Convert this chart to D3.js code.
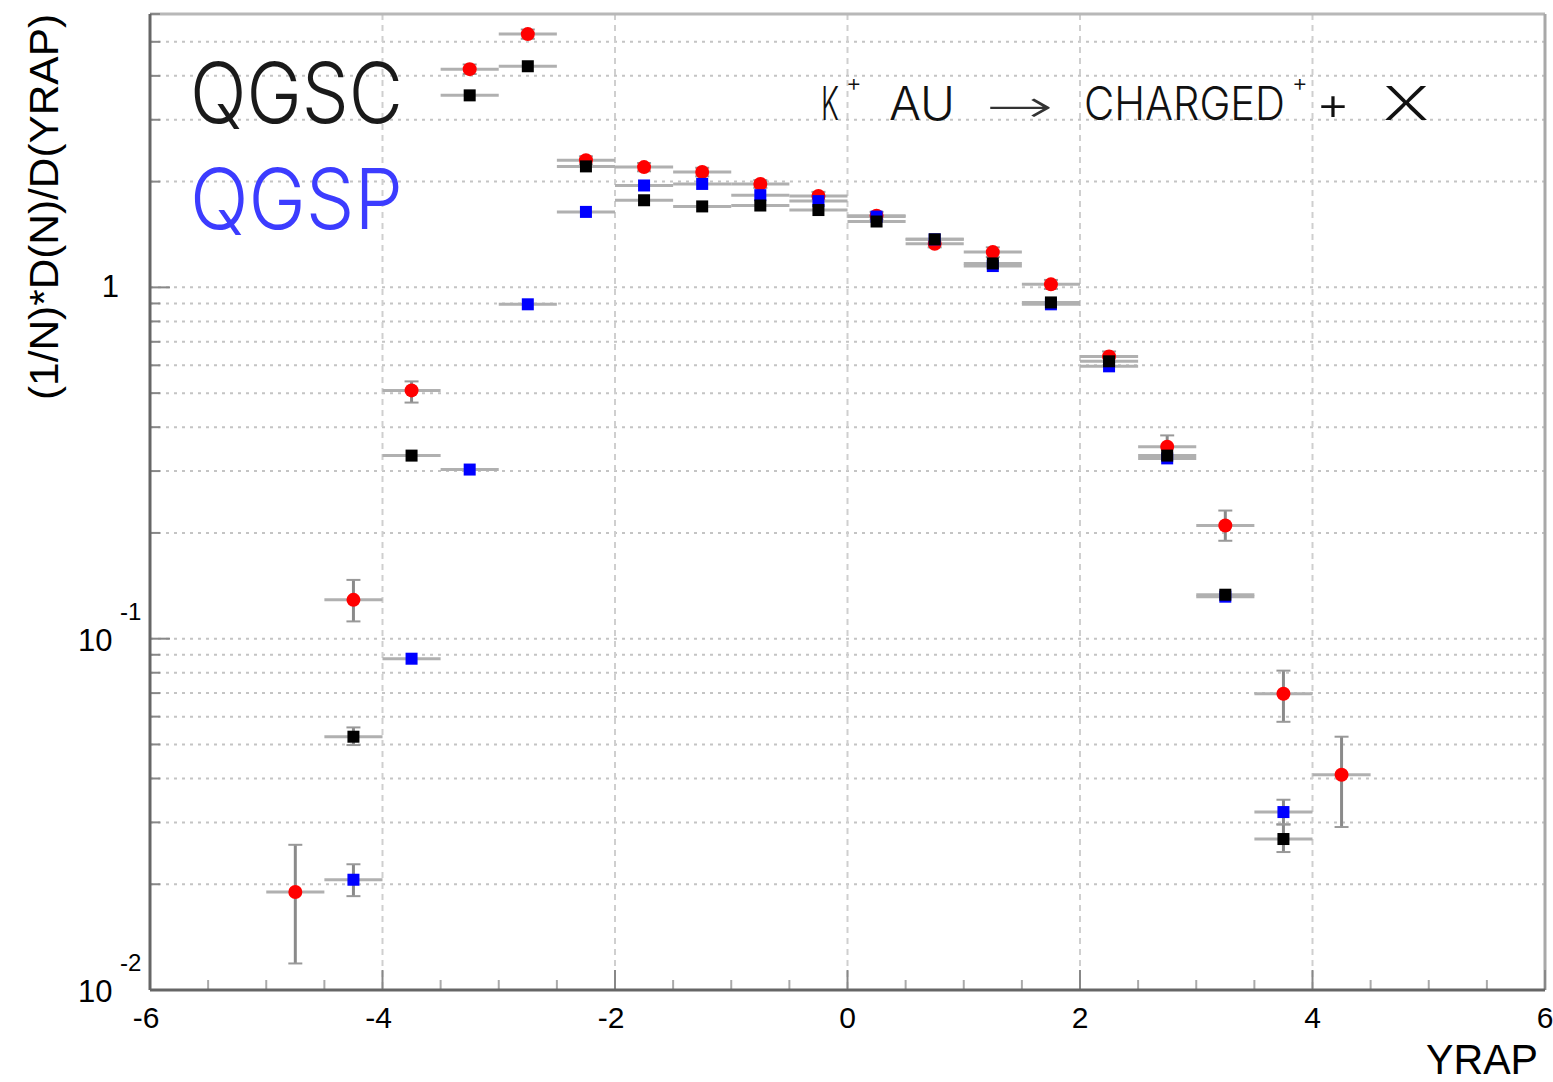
<!DOCTYPE html>
<html>
<head>
<meta charset="utf-8">
<script src="https://cdn.jsdelivr.net/npm/d3@7"></script>
<style>
  html, body { margin: 0; padding: 0; background: #fff; }
  svg { display: block; }
</style>
</head>
<body>
<div id="chart"></div>
<script>
// bin centres in rapidity (bin width 0.5)
const binCenters = [-4.75, -4.25, -3.75, -3.25, -2.75, -2.25, -1.75, -1.25, -0.75, -0.25,
                    0.25, 0.75, 1.25, 1.75, 2.25, 2.75, 3.25, 3.75, 4.25];
const binHalfWidth = 0.25;

// measured data (red)
const dataVal = [0.0190, 0.129, 0.509, 4.18, 5.26, 2.30, 2.20, 2.13, 1.97, 1.82,
                 1.60, 1.33, 1.26, 1.02, 0.636, 0.352, 0.210, 0.0697, 0.0410];
const dataLo  = [0.0119, 0.112, 0.470, 4.05, 5.10, 2.24, 2.14, 2.07, 1.92, 1.77,
                 1.56, 1.30, 1.22, 0.99, 0.615, 0.328, 0.190, 0.0580, 0.0291];
const dataHi  = [0.0259, 0.147, 0.540, 4.31, 5.42, 2.36, 2.26, 2.19, 2.02, 1.87,
                 1.64, 1.36, 1.30, 1.05, 0.657, 0.379, 0.2316, 0.0811, 0.0526];

// QGSC (black)
const qgscVal = [null, 0.0526, 0.332, 3.52, 4.26, 2.21, 1.77, 1.70, 1.71, 1.66,
                 1.54, 1.37, 1.17, 0.906, 0.616, 0.332, 0.1334, 0.0269, null];
const qgscLo  = [null, 0.0498, null, null, null, null, null, null, null, null,
                 null, null, null, null, null, null, null, 0.0247, null];
const qgscHi  = [null, 0.0559, null, null, null, null, null, null, null, null,
                 null, null, null, null, null, null, null, 0.0296, null];

// QGSP (blue)
const qgspVal = [null, 0.0206, 0.0877, 0.303, 0.895, 1.64, 1.95, 1.97, 1.83, 1.76,
                 1.59, 1.37, 1.15, 0.895, 0.596, 0.326, 0.1317, 0.0321, null];
const qgspLo  = [null, 0.0185, null, null, null, null, null, null, null, null,
                 null, null, null, null, null, null, null, 0.0296, null];
const qgspHi  = [null, 0.0228, null, null, null, null, null, null, null, null,
                 null, null, null, null, null, null, null, 0.0348, null];

const xMajorTicks = [-6, -4, -2, 0, 2, 4, 6];
const yLabelTicks = [{v: 0.01, base: "10", exp: "-2"}, {v: 0.1, base: "10", exp: "-1"}, {v: 1, base: "1", exp: ""}];

const W = 1553, H = 1082;
const m = {left: 150, right: 1545, top: 14, bottom: 990};

const svg = d3.select("#chart").append("svg")
  .attr("width", W).attr("height", H);

const x = d3.scaleLinear().domain([-6, 6]).range([m.left, m.right]);
const y = d3.scaleLog().domain([0.01, 6]).range([m.bottom, m.top]);

const font = "'Liberation Sans', Arial, sans-serif";
const thinFont = "Inter, 'Liberation Sans', sans-serif";

// horizontal dotted grid at every log tick
const yGrid = [];
[0.01, 0.1, 1].forEach(d => { for (let k = 1; k <= 9; k++) { const v = d * k; if (v > 0.0101 && v < 6.01) yGrid.push(v); } });

svg.append("g")
  .selectAll("line")
  .data(yGrid)
  .join("line")
    .attr("x1", m.left).attr("x2", m.right)
    .attr("y1", d => y(d)).attr("y2", d => y(d))
    .attr("stroke", "#c4c4c4")
    .attr("stroke-width", 2)
    .attr("stroke-dasharray", "3,5");

// vertical dashed grid at major x ticks
svg.append("g")
  .selectAll("line")
  .data([-4, -2, 0, 2, 4])
  .join("line")
    .attr("x1", d => x(d)).attr("x2", d => x(d))
    .attr("y1", m.top).attr("y2", m.bottom)
    .attr("stroke", "#cfcfcf")
    .attr("stroke-width", 2)
    .attr("stroke-dasharray", "6,5");

// frame
svg.append("line").attr("x1", m.left).attr("x2", m.right).attr("y1", m.top).attr("y2", m.top)
  .attr("stroke", "#b8b8b8").attr("stroke-width", 3);
svg.append("line").attr("x1", m.right).attr("x2", m.right).attr("y1", m.top).attr("y2", m.bottom)
  .attr("stroke", "#a8a8a8").attr("stroke-width", 3);

// x ticks (inward)
const isMajor = d => Math.abs(d % 2) < 1e-9;
svg.append("g")
  .selectAll("line")
  .data(d3.range(-6, 6.01, 0.5))
  .join("line")
    .attr("x1", d => x(d)).attr("x2", d => x(d))
    .attr("y1", m.bottom)
    .attr("y2", d => isMajor(d) ? m.bottom - 20 : m.bottom - 10)
    .attr("stroke", d => isMajor(d) ? "#888" : "#aaa")
    .attr("stroke-width", 2);

// y ticks (inward)
svg.append("g")
  .selectAll("line")
  .data(yGrid)
  .join("line")
    .attr("x1", m.left)
    .attr("x2", d => (Math.abs(d - 0.1) < 1e-9 || Math.abs(d - 1) < 1e-9) ? m.left + 20 : m.left + 10)
    .attr("y1", d => y(d)).attr("y2", d => y(d))
    .attr("stroke", "#888")
    .attr("stroke-width", 2);

// axis lines
svg.append("line").attr("x1", m.left).attr("x2", m.right).attr("y1", m.bottom).attr("y2", m.bottom)
  .attr("stroke", "#666").attr("stroke-width", 3);
svg.append("line").attr("x1", m.left).attr("x2", m.left).attr("y1", m.top).attr("y2", m.bottom)
  .attr("stroke", "#666").attr("stroke-width", 3);

// x tick labels
svg.append("g")
  .selectAll("text")
  .data(xMajorTicks)
  .join("text")
    .attr("x", d => x(d) - (d < 0 ? 4 : 0))
    .attr("y", 1028)
    .attr("text-anchor", "middle")
    .attr("font-family", font)
    .attr("font-size", 30)
    .attr("fill", "#000")
    .text(d => d);

// y tick labels
yLabelTicks.forEach(t => {
  const yy = y(t.v);
  if (t.exp) {
    const tx = svg.append("text")
      .attr("font-family", font).attr("font-size", 31);
    tx.append("tspan").attr("x", 78).attr("y", yy + 12).text(t.base);
    tx.append("tspan").attr("x", 120).attr("y", yy - 19).attr("font-size", 24).text(t.exp);
  } else {
    svg.append("text")
      .attr("x", 119).attr("y", yy + 10)
      .attr("text-anchor", "end")
      .attr("font-family", font).attr("font-size", 31)
      .text(t.base);
  }
});

// axis titles
svg.append("text")
  .attr("x", 1538).attr("y", 1074)
  .attr("text-anchor", "end")
  .attr("font-family", font).attr("font-size", 42)
  .attr("textLength", 112).attr("lengthAdjust", "spacingAndGlyphs")
  .text("YRAP");

svg.append("text")
  .attr("transform", "translate(58,14) rotate(-90)")
  .attr("text-anchor", "end")
  .attr("font-family", font).attr("font-size", 40)
  .attr("textLength", 386).attr("lengthAdjust", "spacingAndGlyphs")
  .text("(1/N)*D(N)/D(YRAP)");

// legend texts
svg.append("text")
  .attr("x", 190).attr("y", 123)
  .attr("font-family", thinFont).attr("font-size", 84).attr("font-weight", 300)
  .attr("fill", "#1a1a1a")
  .attr("textLength", 213).attr("lengthAdjust", "spacingAndGlyphs")
  .text("QGSC");
svg.append("text")
  .attr("x", 190).attr("y", 229)
  .attr("font-family", thinFont).attr("font-size", 84).attr("font-weight", 300)
  .attr("fill", "#3c3cff")
  .attr("textLength", 213).attr("lengthAdjust", "spacingAndGlyphs")
  .text("QGSP");

// reaction label, one text with positioned pieces
const rx = svg.append("text")
  .attr("font-family", thinFont).attr("font-weight", 300)
  .attr("font-size", 46).attr("fill", "#111");
rx.append("tspan").attr("x", 821).attr("y", 120)
  .attr("textLength", 18).attr("lengthAdjust", "spacingAndGlyphs").text("K");
rx.append("tspan").attr("x", 846).attr("y", 91).attr("font-size", 24).text("+");
rx.append("tspan").attr("x", 889).attr("y", 120)
  .attr("textLength", 66).attr("lengthAdjust", "spacingAndGlyphs").text("AU");
rx.append("tspan").attr("x", 986).attr("y", 122)
  .attr("font-family", "'DejaVu Sans', sans-serif").attr("fill", "#333")
  .attr("textLength", 68).attr("lengthAdjust", "spacingAndGlyphs").text("\u2192");
rx.append("tspan").attr("x", 1084).attr("y", 120)
  .attr("textLength", 201).attr("lengthAdjust", "spacingAndGlyphs").text("CHARGED");
rx.append("tspan").attr("x", 1292).attr("y", 91).attr("font-size", 24).text("+");
rx.append("tspan").attr("x", 1316).attr("y", 120)
  .attr("textLength", 34).attr("lengthAdjust", "spacingAndGlyphs").text("+");
rx.append("tspan").attr("x", 1383).attr("y", 120)
  .attr("textLength", 46).attr("lengthAdjust", "spacingAndGlyphs").text("X");

// build series
function series(vals, lo, hi) {
  return binCenters.map((c, i) => ({x: c, v: vals[i], lo: lo[i], hi: hi[i]}))
    .filter(d => d.v !== null);
}
const red = series(dataVal, dataLo, dataHi);
const blk = series(qgscVal, qgscLo, qgscHi);
const blu = series(qgspVal, qgspLo, qgspHi);

function drawErrors(data) {
  const g = svg.append("g");
  g.selectAll("line.h")
    .data(data)
    .join("line")
      .attr("class", "h")
      .attr("x1", d => x(d.x - binHalfWidth)).attr("x2", d => x(d.x + binHalfWidth))
      .attr("y1", d => y(d.v)).attr("y2", d => y(d.v))
      .attr("stroke", "#b0b0b0").attr("stroke-width", 3);
  const withY = data.filter(d => d.lo !== null && d.hi !== null);
  g.selectAll("line.v")
    .data(withY)
    .join("line")
      .attr("class", "v")
      .attr("x1", d => x(d.x)).attr("x2", d => x(d.x))
      .attr("y1", d => y(d.lo)).attr("y2", d => y(d.hi))
      .attr("stroke", "#8a8a8a").attr("stroke-width", 3);
  g.selectAll("line.c1")
    .data(withY)
    .join("line")
      .attr("class", "c1")
      .attr("x1", d => x(d.x) - 7).attr("x2", d => x(d.x) + 7)
      .attr("y1", d => y(d.lo)).attr("y2", d => y(d.lo))
      .attr("stroke", "#999").attr("stroke-width", 2);
  g.selectAll("line.c2")
    .data(withY)
    .join("line")
      .attr("class", "c2")
      .attr("x1", d => x(d.x) - 7).attr("x2", d => x(d.x) + 7)
      .attr("y1", d => y(d.hi)).attr("y2", d => y(d.hi))
      .attr("stroke", "#999").attr("stroke-width", 2);
}

drawErrors(red);
drawErrors(blu);
drawErrors(blk);

// markers: red circles, blue and black squares
svg.append("g")
  .selectAll("circle")
  .data(red)
  .join("circle")
    .attr("cx", d => x(d.x)).attr("cy", d => y(d.v))
    .attr("r", 7)
    .attr("fill", "#ff0000");

const sq = 12;
svg.append("g")
  .selectAll("rect")
  .data(blu)
  .join("rect")
    .attr("x", d => x(d.x) - sq / 2).attr("y", d => y(d.v) - sq / 2)
    .attr("width", sq).attr("height", sq)
    .attr("fill", "#0000ff");

svg.append("g")
  .selectAll("rect")
  .data(blk)
  .join("rect")
    .attr("x", d => x(d.x) - sq / 2).attr("y", d => y(d.v) - sq / 2)
    .attr("width", sq).attr("height", sq)
    .attr("fill", "#000");
</script>
</body>
</html>
